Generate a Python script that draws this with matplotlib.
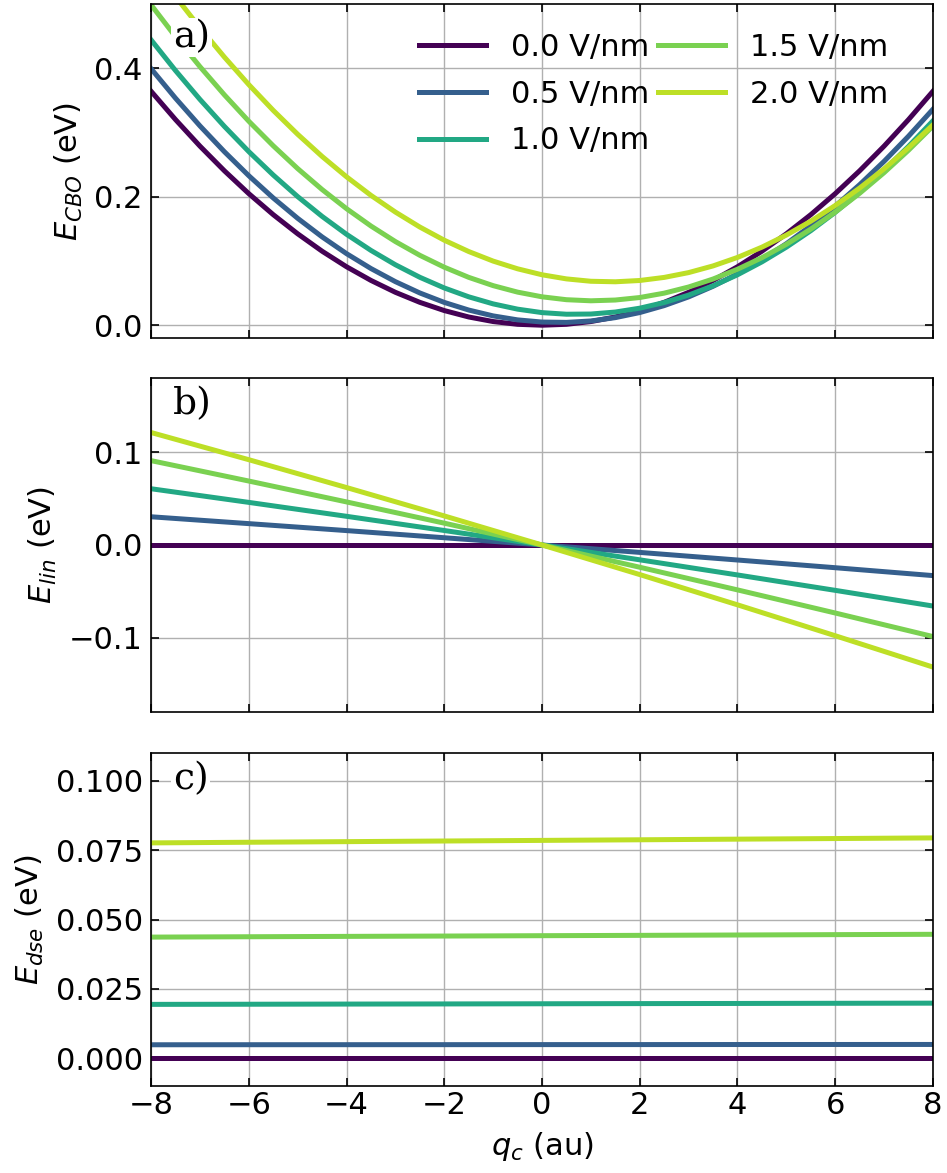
import numpy as np
import matplotlib
matplotlib.use("Agg")
import matplotlib.pyplot as plt

# field strengths and colours (viridis picks)
fields = [0.0, 0.5, 1.0, 1.5, 2.0]
colors = ["#440154", "#355f8d", "#22a884", "#7ad151", "#bddf26"]

# a) E_CBO, read every 0.5 au
q_fine = np.arange(-8, 8.01, 0.5)
e_cbo = [
    [0.3642, 0.3201, 0.2788, 0.2404, 0.2048, 0.1721, 0.1423, 0.1152, 0.0910,
     0.0697, 0.0512, 0.0356, 0.0228, 0.0128, 0.0057, 0.0014, 0.0,
     0.0014, 0.0057, 0.0128, 0.0228, 0.0356, 0.0512, 0.0697, 0.0910,
     0.1152, 0.1423, 0.1721, 0.2048, 0.2404, 0.2788, 0.3201, 0.3642],
    [0.3993, 0.3534, 0.3103, 0.2701, 0.2327, 0.1981, 0.1664, 0.1375, 0.1114,
     0.0882, 0.0678, 0.0502, 0.0355, 0.0236, 0.0145, 0.0083, 0.0049,
     0.0044, 0.0066, 0.0118, 0.0197, 0.0305, 0.0441, 0.0606, 0.0799,
     0.1020, 0.1269, 0.1547, 0.1854, 0.2188, 0.2551, 0.2943, 0.3362],
    [0.4442, 0.3964, 0.3515, 0.3095, 0.2702, 0.2338, 0.2002, 0.1694, 0.1415,
     0.1164, 0.0941, 0.0746, 0.0580, 0.0442, 0.0332, 0.0250, 0.0196,
     0.0171, 0.0174, 0.0205, 0.0265, 0.0353, 0.0469, 0.0613, 0.0785,
     0.0986, 0.1215, 0.1472, 0.1758, 0.2071, 0.2413, 0.2784, 0.3182],
    [0.4987, 0.4492, 0.4025, 0.3586, 0.3175, 0.2793, 0.2438, 0.2112, 0.1814,
     0.1544, 0.1302, 0.1088, 0.0903, 0.0745, 0.0616, 0.0515, 0.0442,
     0.0397, 0.0380, 0.0392, 0.0431, 0.0499, 0.0595, 0.0719, 0.0871,
     0.1051, 0.1259, 0.1496, 0.1761, 0.2054, 0.2375, 0.2724, 0.3101],
    [0.5629, 0.5116, 0.4631, 0.4174, 0.3745, 0.3344, 0.2972, 0.2627, 0.2310,
     0.2021, 0.1761, 0.1528, 0.1323, 0.1147, 0.0998, 0.0878, 0.0785,
     0.0721, 0.0684, 0.0676, 0.0696, 0.0744, 0.0819, 0.0923, 0.1055,
     0.1215, 0.1403, 0.1619, 0.1863, 0.2135, 0.2435, 0.2763, 0.3119],
]

# b) and c), read every 2 au
q = np.arange(-8, 9, 2)
e_lin = [
    [0.0, 0.0, 0.0, 0.0, 0.0, 0.0, 0.0, 0.0, 0.0],
    [0.0304, 0.0230, 0.0155, 0.0078, 0.0, -0.0080, -0.0162, -0.0245, -0.0330],
    [0.0606, 0.0459, 0.0309, 0.0156, 0.0, -0.0160, -0.0323, -0.0489, -0.0658],
    [0.0909, 0.0689, 0.0464, 0.0235, 0.0, -0.0240, -0.0484, -0.0733, -0.0987],
    [0.1212, 0.0919, 0.0619, 0.0313, 0.0, -0.0319, -0.0645, -0.0978, -0.1316],
]
e_dse = [
    [0.0, 0.0, 0.0, 0.0, 0.0, 0.0, 0.0, 0.0, 0.0],
    [0.00485, 0.00487, 0.00488, 0.00489, 0.00491, 0.00492, 0.00494, 0.00495, 0.00496],
    [0.01941, 0.01946, 0.01952, 0.01957, 0.01963, 0.01969, 0.01974, 0.01980, 0.01985],
    [0.04366, 0.04379, 0.04392, 0.04404, 0.04417, 0.04429, 0.04442, 0.04455, 0.04467],
    [0.07762, 0.07785, 0.07807, 0.07830, 0.07852, 0.07874, 0.07897, 0.07919, 0.07942],
]

plt.rcParams["font.size"] = 22
plt.rcParams["axes.linewidth"] = 1.2
plt.rcParams["axes.labelpad"] = 7

fig = plt.figure(figsize=(9.47, 11.73), dpi=100)
left, width = 0.1595, 0.8257
ax1 = fig.add_axes([left, 0.7118, width, 0.2848])
ax2 = fig.add_axes([left, 0.3930, width, 0.2848], sharex=ax1)
ax3 = fig.add_axes([left, 0.0742, width, 0.2838], sharex=ax1)

lw = 3.6
for i, F in enumerate(fields):
    ax1.plot(q_fine, e_cbo[i], color=colors[i], lw=lw, label=f"{F:.1f} V/nm")
    ax2.plot(q, e_lin[i], color=colors[i], lw=lw)
    ax3.plot(q, e_dse[i], color=colors[i], lw=lw)

ax1.set_ylim(-0.02, 0.5)
ax1.set_yticks([0.0, 0.2, 0.4])
ax2.set_ylim(-0.18, 0.18)
ax2.set_yticks([-0.1, 0.0, 0.1])
ax3.set_ylim(-0.01, 0.11)
ax3.set_yticks([0.0, 0.025, 0.05, 0.075, 0.1])
ax3.set_xlim(-8, 8)
ax3.set_xticks(range(-8, 9, 2))

ax1.set_ylabel("$E_{CBO}$ (eV)")
ax2.set_ylabel("$E_{lin}$ (eV)")
ax3.set_ylabel("$E_{dse}$ (eV)")
ax3.set_xlabel("$q_c$ (au)")

for ax, lab, ytop in zip([ax1, ax2, ax3], ["a)", "b)", "c)"], [0.955, 0.975, 0.975]):
    ax.grid(True, color="#b0b0b0", lw=1.0)
    ax.set_axisbelow(True)
    ax.tick_params(direction="in", top=True, right=True, length=6, width=1.2)
    ax.tick_params(axis="y", pad=6)
    ax.text(0.028, ytop, lab, transform=ax.transAxes, family="DejaVu Serif",
            fontsize=27, va="top", ha="left",
            bbox=dict(facecolor="white", edgecolor="none", pad=1))
    if ax is not ax3:
        plt.setp(ax.get_xticklabels(), visible=False)

ax1.legend(ncol=2, frameon=False, loc="upper right", bbox_to_anchor=(0.958, 0.95),
           borderaxespad=0, handlelength=2.2, columnspacing=0.3,
           labelspacing=0.58)

plt.savefig("out.png", dpi=100)
